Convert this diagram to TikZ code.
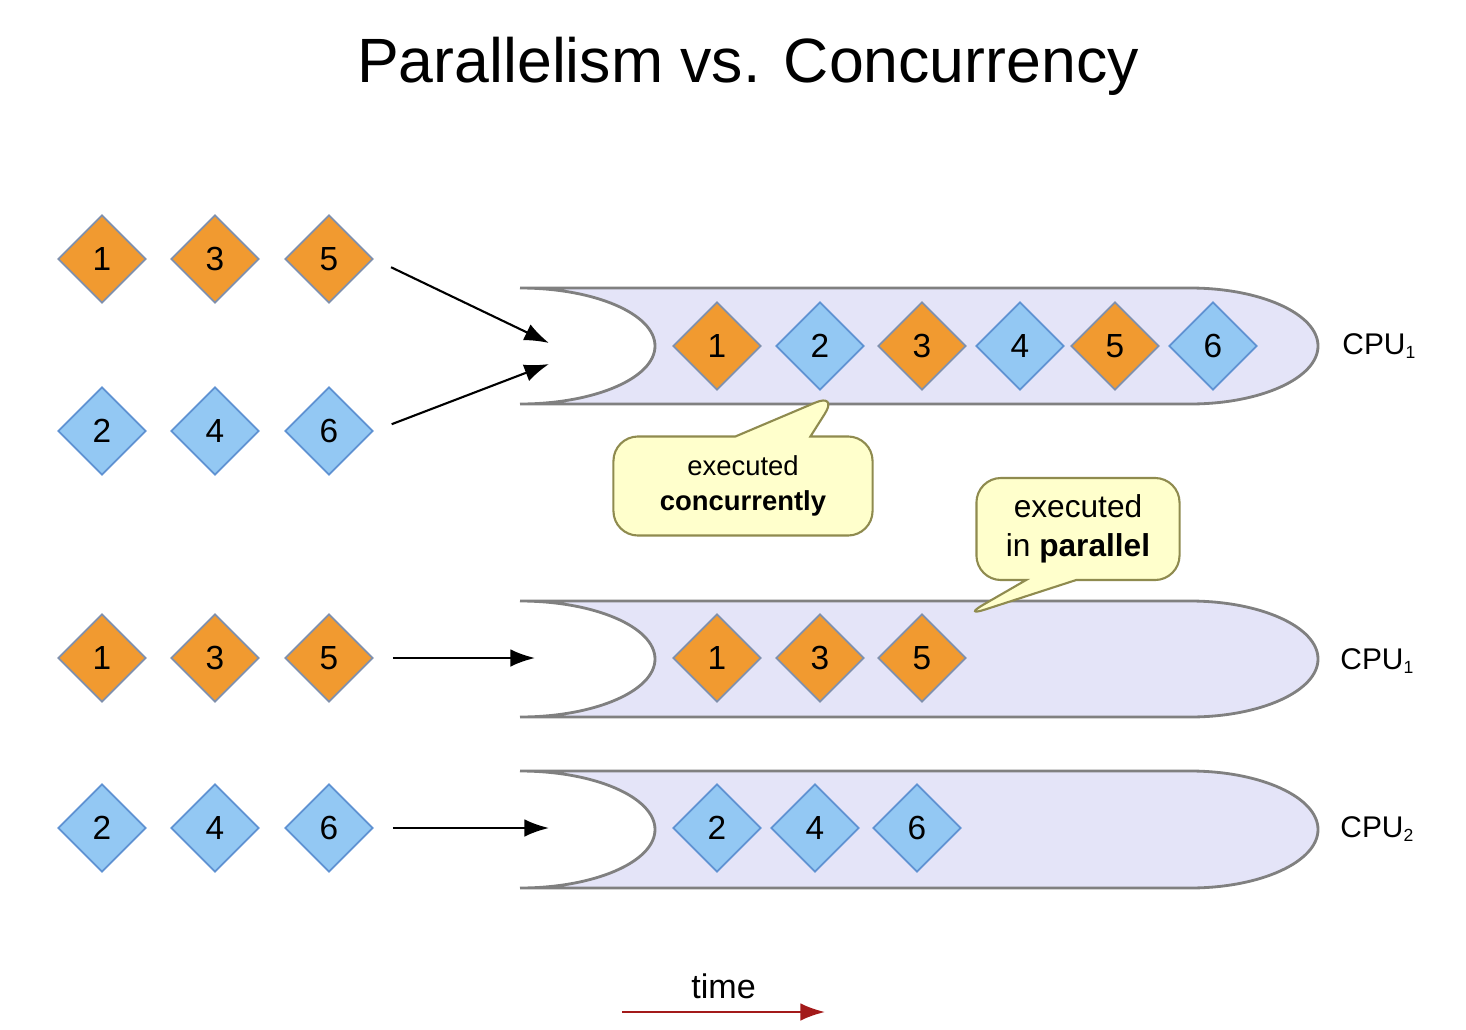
\documentclass[tikz,border=0pt]{standalone}
\usepackage{fontspec}
\setmainfont{Liberation Sans}
\usetikzlibrary{shapes.geometric,shapes.callouts,arrows.meta}

\definecolor{taskorange}{HTML}{F19A30}
\definecolor{taskblue}{HTML}{93C8F3}
\definecolor{orangeedge}{HTML}{8090AC}
\definecolor{blueedge}{HTML}{5F92D2}
\definecolor{pipefill}{HTML}{E4E4F8}
\definecolor{notefill}{HTML}{FFFFCC}
\definecolor{timered}{HTML}{A31A1A}

\begin{document}
\begin{tikzpicture}[
        x=0.01cm, y=0.01cm,
        task/.style={diamond, draw, line width=0.5pt, minimum width=0.88cm, minimum height=0.88cm, inner sep=0pt, font=\fontsize{9.5}{11}\selectfont},
        oddtask/.style={task, fill=taskorange, draw=orangeedge},
        eventask/.style={task, fill=taskblue, draw=blueedge},
        pipe/.style={fill=pipefill, draw=gray, line width=0.8pt},
        cpu/.style={anchor=west, font=\fontsize{8.5}{10}\selectfont},
        note/.style={rectangle callout, draw=olive!45!gray, fill=notefill, line width=0.6pt, rounded corners=7pt, align=center},
        feed/.style={draw, line width=0.6pt, -{Latex[length=7pt,width=5pt]}, shorten <=0.19cm}
    ]
        \useasboundingbox (0,0) rectangle (1466,-1030);

        % Title
        \node[font=\fontsize{17.8}{22}\selectfont] (title) at (748,-66) {Parallelism vs. Concurrency};

        % Pipes
        \path[pipe] (520,-288) -- (1190,-288) arc[start angle=90, end angle=-90, x radius=128, y radius=58]
            -- (520,-404) arc[start angle=-90, end angle=90, x radius=135, y radius=58] -- cycle;
        \path[pipe] (520,-601) -- (1190,-601) arc[start angle=90, end angle=-90, x radius=128, y radius=58]
            -- (520,-717) arc[start angle=-90, end angle=90, x radius=135, y radius=58] -- cycle;
        \path[pipe] (520,-771) -- (1190,-771) arc[start angle=90, end angle=-90, x radius=128, y radius=58.5]
            -- (520,-888) arc[start angle=-90, end angle=90, x radius=135, y radius=58.5] -- cycle;

        % Tasks waiting (concurrency)
        \node[oddtask] (a1) at (102,-259) {1};
        \node[oddtask] (a3) at (215,-259) {3};
        \node[oddtask] (a5) at (329,-259) {5};
        \node[eventask] (a2) at (102,-431) {2};
        \node[eventask] (a4) at (215,-431) {4};
        \node[eventask] (a6) at (329,-431) {6};

        % Tasks waiting (parallelism)
        \node[oddtask] (b1) at (102,-658) {1};
        \node[oddtask] (b3) at (215,-658) {3};
        \node[oddtask] (b5) at (329,-658) {5};
        \node[eventask] (b2) at (102,-828) {2};
        \node[eventask] (b4) at (215,-828) {4};
        \node[eventask] (b6) at (329,-828) {6};

        % Tasks on CPU 1 (concurrent)
        \node[oddtask] (c1) at (717,-346) {1};
        \node[eventask] (c2) at (820,-346) {2};
        \node[oddtask] (c3) at (922,-346) {3};
        \node[eventask] (c4) at (1020,-346) {4};
        \node[oddtask] (c5) at (1115,-346) {5};
        \node[eventask] (c6) at (1213,-346) {6};

        % Tasks on CPU 1 and CPU 2 (parallel)
        \node[oddtask] (p1) at (717,-658) {1};
        \node[oddtask] (p3) at (820,-658) {3};
        \node[oddtask] (p5) at (922,-658) {5};
        \node[eventask] (q2) at (717,-828) {2};
        \node[eventask] (q4) at (815,-828) {4};
        \node[eventask] (q6) at (917,-828) {6};

        % CPU labels
        \node[cpu] (cpua) at (1330,-346) {CPU\textsubscript{\tiny 1}};
        \node[cpu] (cpub) at (1328,-661) {CPU\textsubscript{\tiny 1}};
        \node[cpu] (cpuc) at (1328,-829) {CPU\textsubscript{\tiny 2}};

        % Pipe mouths
        \coordinate (in1) at (549,-343);
        \coordinate (in2) at (549,-364);
        \coordinate (in3) at (535,-658);
        \coordinate (in4) at (549,-828);

        % Feeding arrows
        \draw[feed] (a5.east) -- (in1);
        \draw[feed] (a6.east) -- (in2);
        \draw[feed] (b5.east) -- (in3);
        \draw[feed] (b6.east) -- (in4);

        % Notes
        \node[note, minimum width=2.59cm, minimum height=0.99cm, callout pointer width=0.75cm,
              callout absolute pointer={(838,-393)}, font=\fontsize{7.8}{10}\selectfont] (conc) at (743,-486)
              {executed\\\textbf{concurrently}};
        \node[note, minimum width=2.03cm, minimum height=1.02cm, callout pointer width=0.5cm,
              callout absolute pointer={(962,-617)}, font=\fontsize{9}{11}\selectfont] (par) at (1078,-529)
              {executed\\in \textbf{parallel}};

        % Time axis
        \coordinate (t0) at (622,-1012);
        \coordinate (t1) at (825,-1012);
        \draw[timered, line width=0.6pt, -{Latex[length=7pt,width=5pt]}] (t0) -- node[above, text=black, font=\fontsize{9.7}{12}\selectfont] {time} (t1);
    \end{tikzpicture}
\end{document}
